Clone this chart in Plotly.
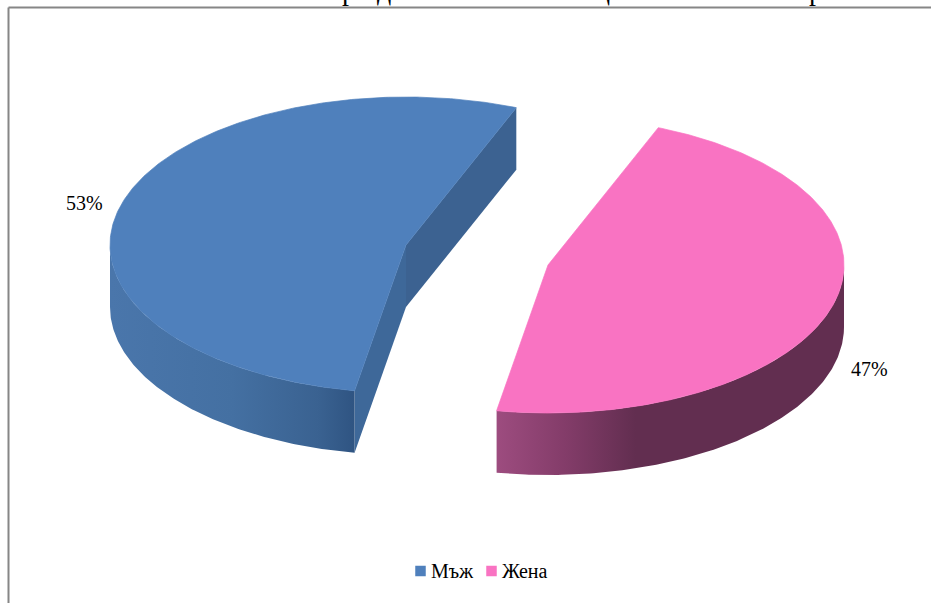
import numpy as np
import plotly.graph_objects as go

categories = ["Мъж", "Жена"]
values = [53.3, 46.7]
percent_labels = ["53%", "47%"]
clipped_heading = ["33", "р", "д", "ц", "р"]

# chart geometry (pixel units of the page)
RX, RY, DEPTH = 296, 148, 62
START = 190.0
CENTERS = {"Мъж": (406, 245), "Жена": (548, 265)}
TOP_COLORS = {"Мъж": "#4F80BC", "Жена": "#F973C2"}
SERIF = "Liberation Serif"


def arc(cx, cy, a0, a1, n=160):
    t = np.radians(np.linspace(a0, a1, n))
    return cx + RX * np.sin(t), cy - RY * np.cos(t)


def poly(xs, ys, name, color=None, scale=None, edge=0):
    kw = dict(x=list(xs), y=list(ys), mode="lines", fill="toself",
              line=dict(width=edge, color=color), hoverinfo="skip", showlegend=False, name=name)
    if scale:
        kw["fillgradient"] = dict(type="horizontal", colorscale=scale)
        kw["line"] = dict(width=0)
    else:
        kw["fillcolor"] = color
    return go.Scatter(**kw)


total = sum(values)
a_m0 = START
a_m1 = START + values[0] / total * 360
a_f0 = a_m1 - 360
a_f1 = a_f0 + values[1] / total * 360

fig = go.Figure()

# ---- Мъж: cut faces, outer wall, top
cx, cy = CENTERS["Мъж"]
ex1, ey1 = arc(cx, cy, a_m1, a_m1, 1)
ex0, ey0 = arc(cx, cy, a_m0, a_m0, 1)
fig.add_trace(poly([cx, ex1[0], ex1[0], cx], [cy, ey1[0], ey1[0] + DEPTH, cy + DEPTH], "Мъж face", "#3C6291"))
fig.add_trace(poly([cx, ex0[0], ex0[0], cx], [cy, ey0[0], ey0[0] + DEPTH, cy + DEPTH], "Мъж face", "#3E6899"))
wx, wy = arc(cx, cy, a_m0, 270)
fig.add_trace(poly(np.r_[wx, wx[::-1]], np.r_[wy, wy[::-1] + DEPTH], "Мъж wall",
                   scale=[[0, "#4A76AB"], [0.5, "#4470A2"], [0.85, "#3A6291"], [1, "#2F5482"]]))
ax, ay = arc(cx, cy, a_m0, a_m1, 320)
fig.add_trace(poly(np.r_[cx, ax, cx], np.r_[cy, ay, cy], "Мъж", TOP_COLORS["Мъж"], edge=0.7))

# ---- Жена: outer wall, top
cx, cy = CENTERS["Жена"]
wx, wy = arc(cx, cy, 90, a_f1)
fig.add_trace(poly(np.r_[wx, wx[::-1]], np.r_[wy, wy[::-1] + DEPTH], "Жена wall",
                   scale=[[0, "#9D4C7F"], [0.2, "#833C69"], [0.4, "#622E50"], [1, "#622E50"]]))
ax, ay = arc(cx, cy, a_f0, a_f1, 320)
fig.add_trace(poly(np.r_[cx, ax, cx], np.r_[cy, ay, cy], "Жена", TOP_COLORS["Жена"], edge=0.7))

# ---- legend keys
fig.add_trace(go.Scatter(
    x=[420.5, 491.5], y=[571, 571], mode="markers", hoverinfo="skip", showlegend=False,
    marker=dict(symbol="square", size=10.5, color=[TOP_COLORS[c] for c in categories], line=dict(width=0)),
))

annotations = []
for txt, px, py in zip(percent_labels, [84, 869], [203, 369]):
    annotations.append(dict(x=px, y=py, text=txt, xref="x", yref="y", showarrow=False,
                            font=dict(family=SERIF, size=20, color="#000000")))
for txt, px in zip(categories, [428.5, 499.5]):
    annotations.append(dict(x=px, y=571, text=txt, xref="x", yref="y", showarrow=False, xanchor="left",
                            font=dict(family=SERIF, size=20, color="#000000")))
for txt, px, ps in zip(clipped_heading, [23, 349, 384, 602, 816], [5.5, 7, 7, 7, 7]):
    annotations.append(dict(x=px, y=ps, text=txt, xref="x", yref="y", showarrow=False, yanchor="bottom",
                            borderpad=0, font=dict(family=SERIF, size=28, color="#000000")))

frame_line = dict(color="#868686", width=2)
shapes = [
    dict(type="line", x0=8.5, x1=8.5, y0=7.5, y1=603, line=frame_line, xref="x", yref="y"),
    dict(type="line", x0=8.5, x1=931, y0=7.5, y1=7.5, line=frame_line, xref="x", yref="y"),
]

fig.update_layout(
    width=931, height=603, margin=dict(l=0, r=0, t=0, b=0),
    paper_bgcolor="#FFFFFF", plot_bgcolor="#FFFFFF", showlegend=False,
    xaxis=dict(range=[0, 931], visible=False, fixedrange=True),
    yaxis=dict(range=[603, 0], visible=False, fixedrange=True),
    annotations=annotations, shapes=shapes,
)

fig.write_html("out.html", config={"displayModeBar": False},
               post_script="document.body.style.margin='0';document.body.style.overflow='hidden';")
